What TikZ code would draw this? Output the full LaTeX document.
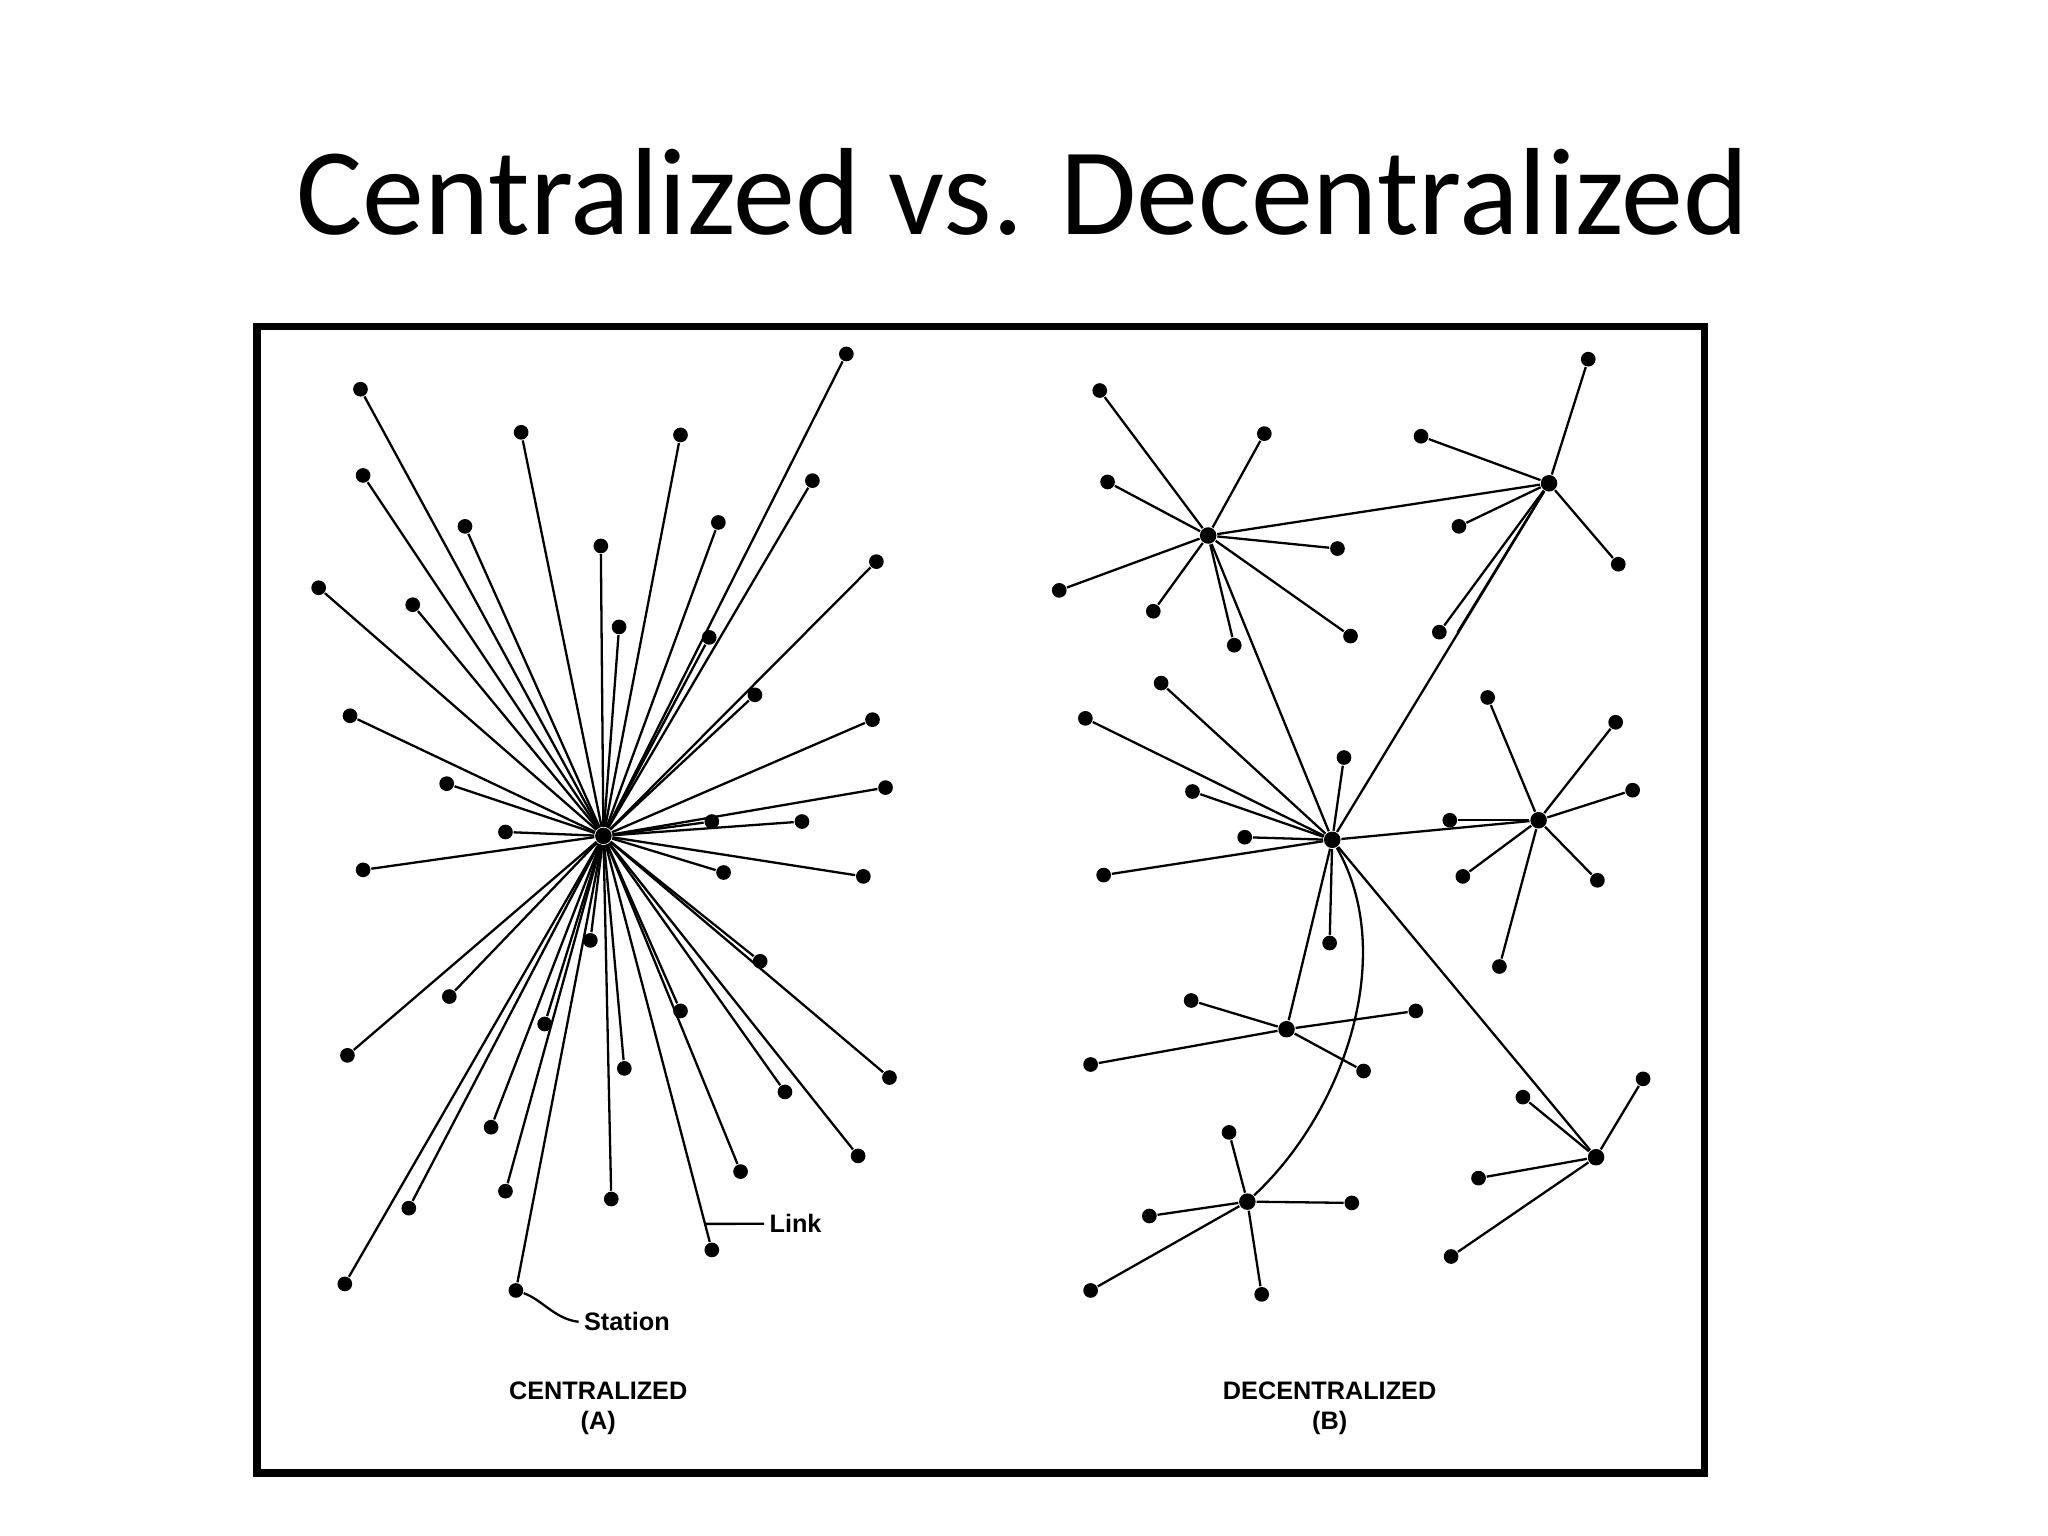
\documentclass[tikz,border=0pt]{standalone}
\usepackage{fontspec}
\setmainfont{Carlito}
\newfontfamily\lblfont{Liberation Sans}
\usetikzlibrary{calc}
\begin{document}
\begin{tikzpicture}[x=0.01cm,y=-0.01cm,
  st/.style={circle,fill=black,inner sep=0pt,minimum size=3.2pt},
  hub/.style={circle,fill=black,inner sep=0pt,minimum size=3.6pt},
  ln/.style={line width=0.5pt},
  lbl/.style={font=\lblfont\bfseries\fontsize{5.5}{6.5}\selectfont,align=center}]
\useasboundingbox (0,0) rectangle (1568,1176);
\node[font=\fontsize{27}{32}\selectfont] (title) at (783,147) {Centralized vs. Decentralized};
\draw[line width=1.7pt] (197,250) rectangle (1305,1128);
% centralized
\node[hub] (c) at (462,640) {};
\foreach \p [count=\i] in {(276,298),(399,331),(521,333),(648,271),(278,364),(356,403),(460,418),(550,400),(622,368),(244,450),(316,463),(474,480),(543,488),(671,430),(268,548),(578,532),(668,551),(342,600),(387,637),(678,603),(545,629),(614,629),(278,666),(554,668),(661,671),(452,720),(582,736),(344,763),(521,774),(417,784),(266,808),(478,818),(601,836),(681,825),(376,863),(567,897),(657,885),(387,912),(468,918),(313,925),(545,957),(264,983),(395,988)}
  {\node[st] (a\i) at \p {}; \draw[ln] (c) -- (a\i);}
\coordinate (lk0) at ($(c)!0.937!(a41)$);
\coordinate (lk) at (585,937);
\draw[ln] (lk0) -- (lk);
\node[lbl,anchor=west,inner sep=1pt] (link) at (lk) {Link};
\node[lbl,anchor=west,inner sep=1pt] (stn) at (443,1012) {Station};
\draw[ln] (a43) .. controls (415,995) and (425,1010) .. (stn.west);
\node[lbl] (la) at (458,1078) {CENTRALIZED\\(A)};
\node[lbl] (lb) at (1018,1078) {DECENTRALIZED\\(B)};
% decentralized hubs
\node[hub] (h1) at (925,410) {};
\node[hub] (h2) at (1186,370) {};
\node[hub] (h3) at (1020,643) {};
\node[hub] (h4) at (1178,628) {};
\node[hub] (h5) at (985,788) {};
\node[hub] (h6) at (955,920) {};
\node[hub] (h7) at (1222,886) {};
\foreach \h/\pts in {h1/{(842,299),(968,332),(848,369),(811,452),(883,468),(945,494),(1024,420),(1034,487)},
  h2/{(1216,275),(1088,334),(1117,403),(1239,432),(1102,484)},
  h3/{(889,523),(831,550),(913,606),(953,641),(845,670),(1029,580),(1018,722)},
  h4/{(1139,534),(1237,553),(1250,605),(1110,628),(1120,671),(1223,674),(1148,740)},
  h5/{(912,766),(1084,774),(835,815),(1044,820)},
  h6/{(941,867),(880,931),(1035,921),(835,988),(966,991)},
  h7/{(1258,826),(1166,840),(1132,902),(1111,962)}}
  {\foreach \p [count=\j] in \pts {\node[st] (\h l\j) at \p {}; \draw[ln] (\h) -- (\h l\j);}}
\draw[ln] (h1) -- (h2);
\draw[ln] (h1) -- (h3);
\draw[ln] (h2) -- (h3);
\draw[ln] ([xshift=4]h2l5.center) -- (h2);
\draw[ln] (h3) -- (h4);
\draw[ln] (h3) -- (h5);
\draw[ln] (h3) -- (h7);
\draw[ln] (h3) .. controls (1070,730) and (1030,850) .. (h6);
\end{tikzpicture}
\end{document}
